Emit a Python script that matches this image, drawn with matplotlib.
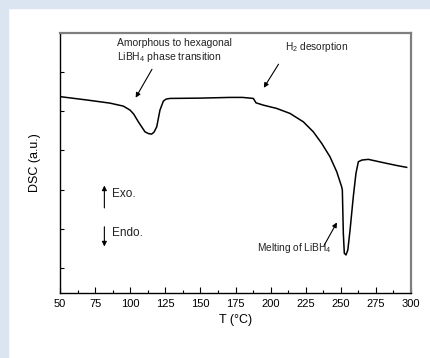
import matplotlib
matplotlib.use('Agg')
import matplotlib.pyplot as plt
from matplotlib.patches import Rectangle
from matplotlib.ticker import MultipleLocator

plt.rcParams['font.family'] = ['Liberation Sans', 'DejaVu Sans']
plt.rcParams['mathtext.fontset'] = 'custom'
plt.rcParams['mathtext.rm'] = 'Liberation Sans'
plt.rcParams['mathtext.it'] = 'Liberation Sans:italic'

# DSC trace (arbitrary units)
temp = [50, 60, 70, 85.6, 95.1, 99.9, 102.5, 105.8, 110.5, 113, 115.3, 117,
        118.9, 121.2, 123.6, 125.5, 128.3, 150, 171.1, 180, 187.7, 189.6,
        194.8, 204.3, 213.8, 223.3, 230.4, 236.4, 242.3, 247.1, 250.6, 251.1,
        251.8, 252.5, 253.7, 255, 256.6, 258.9, 260.8, 262.5, 265, 269.6,
        280, 290, 296.9]
dsc = [4.375, 4.330, 4.285, 4.209, 4.133, 4.031, 3.929, 3.732, 3.477, 3.431,
       3.418, 3.469, 3.605, 4.031, 4.260, 4.311, 4.329, 4.337, 4.355, 4.355,
       4.329, 4.217, 4.158, 4.074, 3.946, 3.732, 3.477, 3.181, 2.839, 2.457,
       2.074, 1.990, 0.885, 0.375, 0.332, 0.459, 0.969, 1.819, 2.416, 2.712,
       2.755, 2.773, 2.691, 2.615, 2.569]

x_ticks = [50, 75, 100, 125, 150, 175, 200, 225, 250, 275, 300]

fig = plt.figure(figsize=(4.30, 3.58), dpi=100)
fig.patches.append(Rectangle((0, 1 - 8 / 358), 1, 8 / 358, transform=fig.transFigure,
                             color='#dbe5f1', zorder=0))
fig.patches.append(Rectangle((0, 0), 8 / 430, 1, transform=fig.transFigure,
                             color='#dbe5f1', zorder=0))

ax = fig.add_axes([60 / 430, 1 - 293 / 358, 351 / 430, 260 / 358])
ax.plot(temp, dsc, color='black', lw=1.1)

ax.set_xlim(50, 300)
ax.set_ylim(-0.64, 6)
ax.set_xticks(x_ticks)
ax.xaxis.set_minor_locator(MultipleLocator(12.5))
ax.yaxis.set_major_locator(MultipleLocator(1))
ax.set_yticklabels([])
ax.tick_params(axis='x', which='major', direction='in', length=4, width=0.8,
               labelsize=8, pad=4, top=False)
ax.tick_params(axis='x', which='minor', direction='in', length=2, width=0.8, top=False)
ax.tick_params(axis='y', direction='in', length=3, width=0.8, right=False)

for s in ['left', 'bottom']:
    ax.spines[s].set_color('black')
    ax.spines[s].set_linewidth(1.0)
for s in ['top', 'right']:
    ax.spines[s].set_color('#7f7f7f')
    ax.spines[s].set_linewidth(1.6)

ax.set_xlabel('T (°C)', fontsize=9, labelpad=4)
ax.set_ylabel('DSC (a.u.)', fontsize=9, labelpad=10)

arrow = dict(arrowstyle='-|>', color='black', lw=0.8, mutation_scale=7)
ax.annotate('', xy=(102.9, 4.286), xytext=(116.5, 5.135), arrowprops=arrow)
ax.annotate('', xy=(194.1, 4.541), xytext=(206.7, 5.263), arrowprops=arrow)
ax.annotate('', xy=(248.2, 1.224), xytext=(237.1, 0.510), arrowprops=arrow)
ax.annotate('', xy=(81.6, 2.176), xytext=(81.6, 1.462), arrowprops=arrow)
ax.annotate('', xy=(81.6, 0.477), xytext=(81.6, 1.122), arrowprops=arrow)

ax.text(90.4, 5.732, 'Amorphous to hexagonal', fontsize=7.5, va='center', color='#222222')
ax.text(90.4, 5.390, 'LiBH$_4$ phase transition', fontsize=7.5, va='center', color='#222222')
ax.text(210.3, 5.645, 'H$_2$ desorption', fontsize=7.3, va='center', color='#222222')
ax.text(190.1, 0.503, 'Melting of LiBH$_4$', fontsize=7.3, va='center', color='#222222')
ax.text(86.8, 1.888, 'Exo.', fontsize=8.5, va='center', color='#222222')
ax.text(86.8, 0.901, 'Endo.', fontsize=8.5, va='center', color='#222222')

fig.savefig('out.png', dpi=100)
